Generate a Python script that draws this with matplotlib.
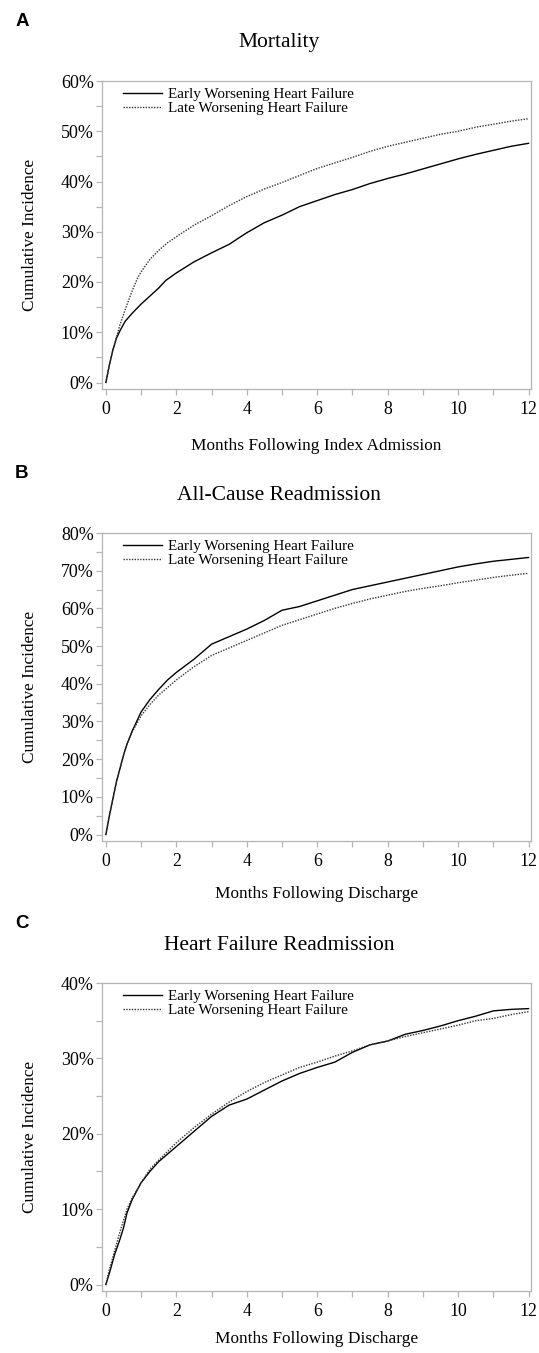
import matplotlib
matplotlib.use("Agg")
import matplotlib.pyplot as plt
from matplotlib.ticker import MultipleLocator, FuncFormatter

plt.rcParams['font.family'] = ['Liberation Serif', 'DejaVu Serif']

# ---------------- data ----------------
# Panel A: Mortality
t_mort_early = [0, 0.1, 0.2, 0.3, 0.4, 0.55, 0.75, 1.0, 1.25, 1.5, 1.7, 2.0, 2.5, 3, 3.5, 4, 4.5, 5, 5.5,
                6, 6.5, 7, 7.5, 8, 8.5, 9, 9.5, 10, 10.5, 11, 11.5, 12]
v_mort_early = [0, 3.5, 6.5, 8.8, 10.3, 12.2, 13.8, 15.6, 17.2, 18.8, 20.3, 21.8, 24.0, 25.8, 27.5, 29.8,
                31.8, 33.3, 35.0, 36.2, 37.4, 38.4, 39.6, 40.6, 41.5, 42.5, 43.5, 44.5, 45.4, 46.2, 47.0, 47.6]
t_mort_late = [0, 0.1, 0.2, 0.3, 0.4, 0.5, 0.6, 0.75, 0.9, 1.0, 1.25, 1.5, 1.75, 2, 2.5, 3, 3.5, 4, 4.5, 5,
               5.5, 6, 6.5, 7, 7.5, 8, 8.5, 9, 9.5, 10, 10.5, 11, 11.5, 12]
v_mort_late = [0, 3.5, 6.5, 9.0, 11.5, 13.5, 15.5, 18.3, 20.8, 22.0, 24.5, 26.3, 27.8, 29.0, 31.3, 33.2,
               35.2, 37.0, 38.5, 39.8, 41.2, 42.6, 43.7, 44.8, 46.0, 47.0, 47.8, 48.6, 49.4, 50.0, 50.8,
               51.4, 52.0, 52.5]

# Panel B: All-cause readmission
t_acr = [0, 0.1, 0.2, 0.3, 0.4, 0.5, 0.6, 0.75, 1, 1.25, 1.5, 1.75, 2, 2.5, 3, 3.5, 4, 4.5, 5, 5.5, 6,
         6.5, 7, 7.5, 8, 8.5, 9, 9.5, 10, 10.5, 11, 11.5, 12]
v_acr_early = [0, 5, 9.5, 14, 17.5, 21, 24, 27.5, 32.5, 35.8, 38.5, 41, 43, 46.5, 50.5, 52.5, 54.5, 56.8,
               59.5, 60.5, 62, 63.5, 65, 66, 67, 68, 69, 70, 71, 71.8, 72.5, 73.0, 73.5]
v_acr_late = [0, 5, 9.5, 14, 17.5, 21, 24, 27.3, 31.5, 34.5, 37, 39, 41, 44.5, 47.5, 49.5, 51.5, 53.5,
              55.5, 57, 58.5, 60, 61.3, 62.5, 63.5, 64.5, 65.3, 66, 66.8, 67.5, 68.2, 68.8, 69.3]

# Panel C: Heart failure readmission
t_hfr = [0, 0.1, 0.25, 0.4, 0.5, 0.6, 0.75, 1, 1.25, 1.5, 2, 2.5, 3, 3.5, 4, 4.5, 5, 5.5, 6, 6.5, 7, 7.5,
         8, 8.5, 9, 9.5, 10, 10.5, 11, 11.5, 12]
v_hfr_early = [0, 1.5, 4, 6, 7.5, 9.5, 11.3, 13.5, 15, 16.3, 18.3, 20.3, 22.3, 23.8, 24.6, 25.8, 27, 28,
               28.8, 29.5, 30.8, 31.8, 32.3, 33.2, 33.7, 34.3, 35, 35.6, 36.3, 36.5, 36.6]
v_hfr_late = [0, 2, 4.5, 7, 8.5, 10, 11.5, 13.5, 15.3, 16.5, 18.8, 20.8, 22.6, 24.2, 25.6, 26.8, 27.8,
              28.8, 29.5, 30.3, 31, 31.8, 32.3, 32.9, 33.4, 33.9, 34.4, 35, 35.3, 35.8, 36.2]

panel_letters = ["A", "B", "C"]
titles = ["Mortality", "All-Cause Readmission", "Heart Failure Readmission"]
xlabels = ["Months Following Index Admission", "Months Following Discharge", "Months Following Discharge"]
ylabel = "Cumulative Incidence"
legend_labels = ["Early Worsening Heart Failure", "Late Worsening Heart Failure"]
ytop = [60, 80, 40]
x_ticks = [0, 2, 4, 6, 8, 10, 12]

series = [
    (t_mort_early, v_mort_early, t_mort_late, v_mort_late),
    (t_acr, v_acr_early, t_acr, v_acr_late),
    (t_hfr, v_hfr_early, t_hfr, v_hfr_late),
]

# ---------------- layout (pixels) ----------------
W, H = 539, 1353
fig = plt.figure(figsize=(W / 100, H / 100), dpi=100)
left_px, right_px = 102, 531
tops_px = [81, 533, 983]
ax_h_px = 308
pad_px = 6.5
title_y = [42, 495, 945]
letter_y = [21, 473, 923]
xlabel_off = [57, 53, 48]

grey = '#b4b4b4'

for i in range(3):
    top = tops_px[i]
    bottom = top + ax_h_px
    ax = fig.add_axes([left_px / W, 1 - bottom / H, (right_px - left_px) / W, ax_h_px / H])
    te, ve, tl, vl = series[i]
    ax.plot(te, ve, color='black', lw=1.0, label=legend_labels[0])
    ax.plot(tl, vl, color='#333333', lw=1.0, linestyle=(0, (1, 1)), label=legend_labels[1])

    ymax = ytop[i]
    ppu = (ax_h_px - pad_px) / ymax
    ax.set_ylim(-pad_px / ppu, ymax)
    ax.set_xlim(-0.11, 12.07)

    ax.set_xticks(x_ticks)
    ax.xaxis.set_minor_locator(MultipleLocator(1))
    ax.yaxis.set_major_locator(MultipleLocator(10))
    ax.yaxis.set_minor_locator(MultipleLocator(5))
    ax.yaxis.set_major_formatter(FuncFormatter(lambda v, p: f"{int(round(v))}%"))

    for s in ax.spines.values():
        s.set_color(grey)
        s.set_linewidth(0.9)
    ax.tick_params(which='both', direction='out', color=grey, width=0.9, length=4.5)
    ax.tick_params(axis='x', which='major', labelsize=12.8, pad=4)
    ax.tick_params(axis='y', which='major', labelsize=13, pad=1.5)

    ax.set_xlabel(xlabels[i], fontsize=12.4)
    ax.xaxis.set_label_coords(0.5, -xlabel_off[i] / ax_h_px)
    ax.xaxis.label.set_va('center')
    ax.set_ylabel(ylabel, fontsize=12.4)
    ax.yaxis.set_label_coords((30 - left_px) / (right_px - left_px), 0.5)
    ax.yaxis.label.set_va('center')

    ax.legend(loc='upper left', bbox_to_anchor=(0.049, 0.978), frameon=False,
              fontsize=10.9, handlelength=2.55, handletextpad=0.4, labelspacing=0.0,
              borderpad=0, borderaxespad=0)

    fig.text(279 / W, 1 - title_y[i] / H, titles[i], fontsize=15.5, ha='center', va='center')
    fig.text(22 / W, 1 - letter_y[i] / H, panel_letters[i], fontsize=13.5, fontweight='bold',
             family='Liberation Sans', ha='center', va='center')

fig.savefig("out.png", dpi=100)
